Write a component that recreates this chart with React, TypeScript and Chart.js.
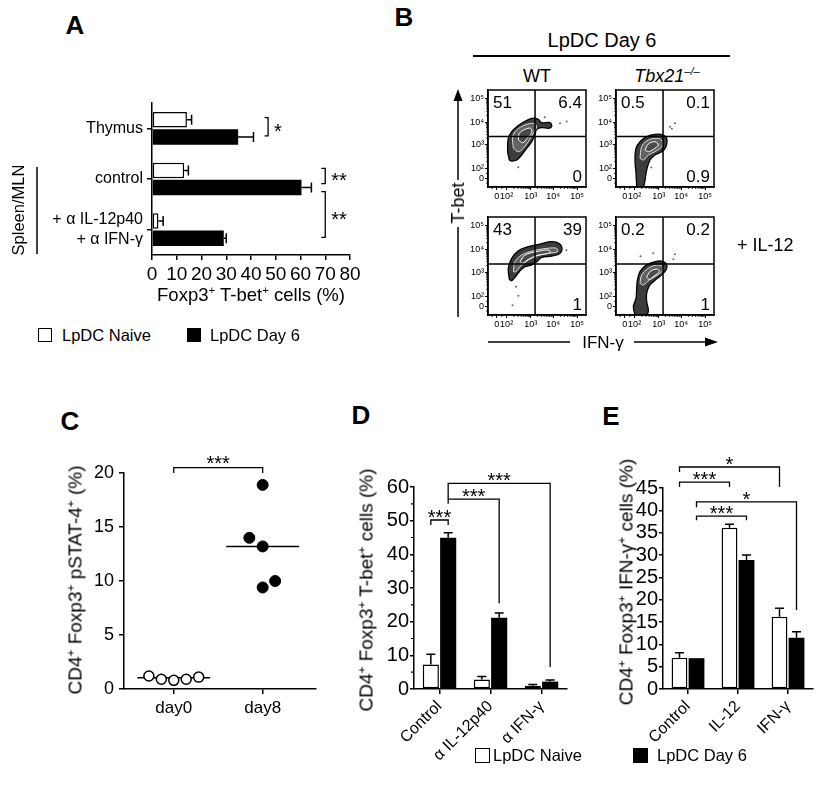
import React, { useEffect, useRef } from 'react';
import { Chart, registerables } from 'chart.js';

Chart.register(...registerables);
const FONT = '"Liberation Sans", Arial, Helvetica, sans-serif';
Chart.defaults.font.family = FONT;
Chart.defaults.color = '#000';

// ---------------- Panel A data ----------------
const categoriesA: (string | string[])[] = ['Thymus', 'control', ['+ α IL-12p40', '+ α IFN-γ']];
const naiveA = [14.1, 13.0, 2.6];
const naiveAErr = [1.9, 1.7, 1.9];
const day6A = [34.8, 60.4, 29.0];
const day6AErr = [6.2, 4.0, 1.0];

// ---------------- Panel B data ----------------
const flowTickValues = [9, 19, 43.5, 66.5, 91];
const flowTickLabels = ['0', '10²', '10³', '10⁴', '10⁵'];
const flowMinorTicks = [4, 14, 26.4, 30.7, 33.7, 36.1, 38.1, 39.7, 41.1, 42.4, 50.4, 54.5, 57.3, 59.6, 61.4, 62.9, 64.3, 65.4, 73.9, 78.2, 81.2, 83.6, 85.6, 87.2, 88.6, 89.9];
const gateX = [48, 48, 48, 48];
const gateY = [52, 52, 52, 52];
const quadUpperLeft = ['51', '0.5', '43', '0.2'];
const quadUpperRight = ['6.4', '0.1', '39', '0.2'];
const quadLowerRight = ['0', '0.9', '1', '1'];

const wtTopOuter = [[21.8, 27.8], [20.1, 36.4], [20.7, 50.2], [24.2, 57.0], [29.3, 62.2], [36.0, 66.7], [44.6, 70.8], [51.4, 69.8], [54.8, 66.3], [63.3, 66.3], [65.0, 62.2], [61.6, 60.5], [54.8, 61.2], [49.7, 59.5], [48.0, 54.6], [44.6, 46.7], [39.5, 39.9], [34.4, 33.0], [29.3, 27.8], [24.2, 26.8]];
const wtTopMid = [[25.9, 39.9], [25.2, 51.9], [29.3, 58.8], [37.8, 63.9], [46.3, 65.6], [49.7, 62.2], [46.3, 55.3], [41.2, 46.7], [36.0, 39.9], [31.0, 36.4]];
const wtTopInner = [[31.0, 48.5], [32.0, 55.3], [37.8, 59.5], [43.5, 60.5], [44.6, 56.0], [40.1, 50.2], [35.4, 45.7]];
const wtTopEvents = [[73.5, 65.7], [80.3, 67.4], [30.9, 20.3], [58, 72]];

const tbxTopOuter = [[21.1, 0.5], [20.4, 14.1], [19.4, 27.8], [20.4, 39.9], [24.5, 46.7], [31.3, 51.9], [39.8, 54.3], [48.3, 53.6], [51.7, 50.2], [51.0, 41.6], [46.6, 36.4], [39.8, 33.0], [34.7, 27.8], [31.3, 17.5], [29.6, 7.2], [27.9, 0.5]];
const tbxTopMid = [[24.5, 29.6], [26.2, 41.6], [31.3, 47.4], [39.8, 50.2], [46.6, 48.5], [46.6, 41.6], [39.8, 36.4], [33.0, 33.0], [27.9, 27.8]];
const tbxTopInner = [[29.6, 38.1], [33.0, 44.3], [39.8, 46.7], [43.2, 43.3], [38.1, 38.8], [33.0, 36.4]];
const tbxTopEvents = [[55.1, 62.2], [60.2, 65.6], [57.0, 60.0], [36, 20]];

const wtBotOuter = [[21.8, 36.4], [20.7, 47.6], [24.2, 57.8], [31.0, 65.6], [41.2, 69.7], [53.1, 72.4], [63.3, 74.8], [70.7, 73.8], [75.2, 69.7], [73.5, 62.9], [65.0, 60.2], [54.8, 58.8], [49.7, 54.4], [44.6, 51.0], [37.8, 49.3], [32.7, 45.2], [28.6, 39.8], [24.2, 35.0]];
const wtBotMid = [[25.9, 44.2], [27.6, 54.4], [34.4, 61.2], [46.3, 65.6], [59.9, 68.0], [70.1, 68.0], [70.7, 64.6], [61.6, 62.9], [49.7, 60.2], [41.2, 56.1], [32.7, 49.3], [28.6, 44.2]];
const wtBotInner = [[32.7, 54.4], [37.8, 61.2], [49.7, 64.6], [61.6, 66.3], [63.3, 63.6], [51.4, 61.2], [41.2, 56.8], [35.4, 52.7]];
const wtBotEvents = [[28.6, 28.9], [31.0, 19.7], [25.0, 10.0], [80.0, 66.0]];

const tbxBotOuter = [[19.4, 0.5], [17.7, 8.5], [20.4, 17.0], [21.1, 27.2], [21.8, 35.7], [24.5, 44.2], [29.6, 50.0], [36.4, 53.4], [44.9, 55.1], [51.0, 52.7], [51.7, 47.6], [48.3, 42.5], [42.2, 37.4], [38.1, 34.0], [34.0, 29.6], [31.3, 22.1], [31.3, 13.6], [33.0, 5.1], [31.3, 0.5]];
const tbxBotMid = [[24.5, 32.3], [26.2, 40.8], [33.0, 47.6], [41.5, 51.0], [47.6, 49.3], [46.6, 44.2], [39.8, 39.1], [34.0, 35.7], [27.9, 30.6]];
const tbxBotInner = [[31.3, 38.4], [34.7, 44.2], [41.5, 46.9], [44.2, 44.2], [38.8, 39.8], [34.0, 36.4]];
const tbxBotEvents = [[38.1, 62.9], [58.5, 56.8], [60.0, 62.0], [25, 60]];

// ---------------- Panel C data ----------------
const groupsC = ['day0', 'day8'];
const day0X = [0.72, 0.86, 1.0, 1.14, 1.28];
const day0Y = [1.2, 0.9, 0.8, 0.9, 1.1];
const day8X = [1.85, 2.0, 2.0, 2.0, 2.14];
const day8Y = [14.0, 18.9, 13.2, 9.4, 10.0];
const mediansC = [1.05, 13.2];

// ---------------- Panel D data ----------------
const categoriesD = ['Control', 'α IL-12p40', 'α IFN-γ'];
const naiveD = [7.3, 2.8, 1.0];
const naiveDErr = [3.0, 0.9, 0.3];
const day6D = [44.9, 21.2, 2.2];
const day6DErr = [1.5, 1.4, 0.5];

// ---------------- Panel E data ----------------
const categoriesE = ['Control', 'IL-12', 'IFN-γ'];
const naiveE = [7.0, 36.1, 16.2];
const naiveEErr = [1.1, 0.8, 1.9];
const day6E = [6.9, 28.9, 11.5];
const day6EErr = [0, 1.1, 1.3];

// ---------------- helpers ----------------
const axisBorder = { display: true, color: '#000', width: 1.5 };
const tickGrid = (len: number, lw = 1.5) => ({ display: true, drawOnChartArea: false, drawTicks: true, tickLength: len, color: '#000', lineWidth: lw, offset: false });

function errorBarPlugin(cap: number, horizontal: boolean) {
  return {
    id: 'errorBars',
    afterDatasetsDraw(chart: any) {
      const ctx = chart.ctx;
      const vScale = horizontal ? chart.scales.x : chart.scales.y;
      ctx.save();
      ctx.strokeStyle = '#000';
      ctx.lineWidth = 1.5;
      chart.data.datasets.forEach((ds: any, di: number) => {
        if (!ds.errors) return;
        const meta = chart.getDatasetMeta(di);
        meta.data.forEach((bar: any, i: number) => {
          const v = ds.data[i];
          const e = ds.errors[i];
          if (v == null || !e) return;
          const p0 = vScale.getPixelForValue(v);
          const p1 = vScale.getPixelForValue(v + e);
          ctx.beginPath();
          if (horizontal) {
            ctx.moveTo(p0, bar.y); ctx.lineTo(p1, bar.y);
            ctx.moveTo(p1, bar.y - cap); ctx.lineTo(p1, bar.y + cap);
          } else {
            ctx.moveTo(bar.x, p0); ctx.lineTo(bar.x, p1);
            ctx.moveTo(bar.x - cap, p1); ctx.lineTo(bar.x + cap, p1);
          }
          ctx.stroke();
        });
      });
      ctx.restore();
    },
  };
}

function bracketPlugin(items: any[], opts: { horizontal?: boolean; font?: number; labelDy?: number }) {
  return {
    id: 'brackets',
    afterDatasetsDraw(chart: any) {
      const ctx = chart.ctx;
      const vScale = opts.horizontal ? chart.scales.x : chart.scales.y;
      const iScale = opts.horizontal ? chart.scales.y : chart.scales.x;
      const pos = (ref: any, d: number) => {
        if (typeof ref === 'number') return iScale.getPixelForValue(ref) + d;
        const el = chart.getDatasetMeta(ref[0]).data[ref[1]];
        return (opts.horizontal ? el.y : el.x) + d;
      };
      const fs = opts.font ?? 20;
      ctx.save();
      ctx.strokeStyle = '#000';
      ctx.fillStyle = '#000';
      ctx.lineWidth = 1.3;
      ctx.font = `${fs}px ${FONT}`;
      for (const it of items) {
        const a = pos(it.a, it.da ?? 0);
        const b = pos(it.b, it.db ?? 0);
        const t = vScale.getPixelForValue(it.top);
        const ea = vScale.getPixelForValue(it.endA);
        const eb = vScale.getPixelForValue(it.endB);
        ctx.beginPath();
        if (opts.horizontal) {
          ctx.moveTo(ea, a); ctx.lineTo(t, a); ctx.lineTo(t, b); ctx.lineTo(eb, b);
        } else {
          ctx.moveTo(a, ea); ctx.lineTo(a, t); ctx.lineTo(b, t); ctx.lineTo(b, eb);
        }
        ctx.stroke();
        ctx.textBaseline = 'alphabetic';
        if (opts.horizontal) {
          ctx.textAlign = 'left';
          ctx.fillText(it.label, t + 6, (a + b) / 2 + fs * 0.57);
        } else {
          ctx.textAlign = 'center';
          ctx.fillText(it.label, (a + b) / 2, t + (opts.labelDy ?? 4));
        }
      }
      ctx.restore();
    },
  };
}

function minorYTicks(values: number[], len: number) {
  return {
    id: 'minorY',
    afterDraw(chart: any) {
      const ctx = chart.ctx;
      const y = chart.scales.y;
      const x0 = chart.chartArea.left;
      ctx.save();
      ctx.strokeStyle = '#000';
      ctx.lineWidth = 1.2;
      ctx.beginPath();
      for (const v of values) {
        const p = y.getPixelForValue(v);
        ctx.moveTo(x0 - len, p); ctx.lineTo(x0, p);
      }
      ctx.stroke();
      ctx.restore();
    },
  };
}

const hidePlugins = { legend: { display: false }, tooltip: { enabled: false } };
const fixSize = (w?: number, h?: number) => (s: any) => {
  if (w !== undefined) s.width = w;
  if (h !== undefined) s.height = h;
  s.paddingTop = 0; s.paddingBottom = 0; s.paddingLeft = 0; s.paddingRight = 0;
};

// ---------------- Panel A ----------------
function makeA() {
  return {
    type: 'bar',
    data: {
      labels: categoriesA,
      datasets: [
        { label: 'LpDC Naive', data: naiveA, errors: naiveAErr, backgroundColor: '#fff', borderColor: '#000', borderWidth: 1.5, borderSkipped: false, categoryPercentage: 0.68, barPercentage: 0.9 },
        { label: 'LpDC Day 6', data: day6A, errors: day6AErr, backgroundColor: '#000', borderColor: '#000', borderWidth: 0, categoryPercentage: 0.68, barPercentage: 0.9 },
      ],
    },
    options: {
      indexAxis: 'y',
      responsive: false,
      animation: false,
      layout: { padding: { left: 0, right: 50, top: 18, bottom: 0 } },
      plugins: hidePlugins,
      scales: {
        x: {
          type: 'linear', min: 0, max: 80,
          ticks: { stepSize: 10, font: { size: 19 }, padding: 3, maxRotation: 0, autoSkip: false },
          grid: tickGrid(5), border: axisBorder,
          afterFit: fixSize(undefined, 60),
        },
        y: {
          type: 'category', offset: true,
          ticks: { font: { size: 16, lineHeight: 1.3 }, padding: 4, autoSkip: false },
          grid: tickGrid(5), border: axisBorder,
          afterFit: fixSize(152, undefined),
        },
      },
    },
    plugins: [
      errorBarPlugin(5, true),
      bracketPlugin([
        { a: [0, 0], b: [1, 0], da: -2, db: -1, top: 46.9, endA: 45.5, endB: 45.5, label: '*' },
        { a: [0, 1], b: [1, 1], da: -2, db: -4, top: 70, endA: 68.4, endB: 68.4, label: '**' },
        { a: [1, 1], b: [1, 2], da: 4, db: -1, top: 70, endA: 68.4, endB: 68.4, label: '**' },
      ], { horizontal: true, font: 20 }),
    ],
  };
}

// ---------------- Panel B ----------------
function makeFlow(idx: number, contours: number[][][], events: number[][]) {
  const toPts = (arr: number[][]) => arr.map(([x, y]) => ({ x, y }));
  const closed = (arr: number[][]) => toPts(arr.concat([arr[0]]));
  const styles = [
    { backgroundColor: '#3c3c3c', borderColor: '#000', borderWidth: 1.3 },
    { backgroundColor: '#626262', borderColor: '#dcdcdc', borderWidth: 1 },
    { backgroundColor: '#4a4a4a', borderColor: '#fff', borderWidth: 1 },
  ];
  const datasets: any[] = [
    { data: [{ x: gateX[idx], y: 0 }, { x: gateX[idx], y: 100 }], borderColor: '#000', borderWidth: 1.5, pointRadius: 0, fill: false, order: 0 },
    { data: [{ x: 0, y: gateY[idx] }, { x: 100, y: gateY[idx] }], borderColor: '#000', borderWidth: 1.5, pointRadius: 0, fill: false, order: 0 },
    { type: 'scatter', data: toPts(events), pointRadius: 1, backgroundColor: '#666', borderWidth: 0, order: 1 },
    ...contours.map((c, k) => ({ data: closed(c), ...styles[k], fill: 'shape', tension: 0.35, pointRadius: 0, order: 10 - k })),
  ];
  const boxPlugin = {
    id: 'flowBox',
    afterDraw(chart: any) {
      const { left, top, right, bottom } = chart.chartArea;
      const ctx = chart.ctx;
      ctx.save();
      ctx.strokeStyle = '#000';
      ctx.lineWidth = 1.5;
      ctx.strokeRect(left, top, right - left, bottom - top);
      ctx.lineWidth = 0.8;
      ctx.beginPath();
      for (const v of flowMinorTicks) {
        const px = chart.scales.x.getPixelForValue(v);
        ctx.moveTo(px, bottom); ctx.lineTo(px, bottom + 2);
        const py = chart.scales.y.getPixelForValue(v);
        ctx.moveTo(left, py); ctx.lineTo(left - 2, py);
      }
      ctx.stroke();
      ctx.fillStyle = '#000';
      ctx.font = `17px ${FONT}`;
      ctx.textBaseline = 'middle';
      ctx.textAlign = 'left';
      ctx.fillText(quadUpperLeft[idx], left + 5, top + 13);
      ctx.textAlign = 'right';
      ctx.fillText(quadUpperRight[idx], right - 4, top + 13);
      ctx.fillText(quadLowerRight[idx], right - 4, bottom - 10);
      ctx.restore();
    },
  };
  const axis = (isX: boolean) => ({
    type: 'linear', min: 0, max: 100,
    afterBuildTicks: (s: any) => { s.ticks = flowTickValues.map((v) => ({ value: v })); },
    ticks: { autoSkip: false, maxRotation: 0, font: { size: 9 }, padding: 1, callback: (_v: any, i: number) => flowTickLabels[i] },
    grid: tickGrid(3, 1), border: axisBorder,
    afterFit: isX ? fixSize(undefined, 22) : fixSize(32, undefined),
  });
  return {
    type: 'line',
    data: { datasets },
    options: {
      responsive: false, animation: false,
      layout: { padding: { left: 0, right: 8, top: 10, bottom: 0 } },
      plugins: hidePlugins,
      scales: { x: axis(true), y: axis(false) },
    },
    plugins: [boxPlugin],
  };
}

// ---------------- Panel C ----------------
function makeC() {
  const medSpan = 0.41;
  return {
    type: 'scatter',
    data: {
      datasets: [
        { label: 'day0', data: day0X.map((x, i) => ({ x, y: day0Y[i] })), pointRadius: 5, pointBackgroundColor: '#fff', pointBorderColor: '#000', pointBorderWidth: 1.5, order: 0 },
        { label: 'day8', data: day8X.map((x, i) => ({ x, y: day8Y[i] })), pointRadius: 5.5, pointBackgroundColor: '#000', pointBorderColor: '#000', pointBorderWidth: 1, order: 0 },
        { data: [{ x: 1 - medSpan, y: mediansC[0] }, { x: 1 + medSpan, y: mediansC[0] }], showLine: true, borderColor: '#000', borderWidth: 1.5, pointRadius: 0, order: 1 },
        { data: [{ x: 2 - medSpan, y: mediansC[1] }, { x: 2 + medSpan, y: mediansC[1] }], showLine: true, borderColor: '#000', borderWidth: 1.5, pointRadius: 0, order: 1 },
      ],
    },
    options: {
      responsive: false, animation: false,
      layout: { padding: { left: 0, right: 24, top: 33, bottom: 0 } },
      plugins: hidePlugins,
      scales: {
        x: {
          type: 'linear', min: 0.44, max: 2.6,
          afterBuildTicks: (s: any) => { s.ticks = [{ value: 1 }, { value: 2 }]; },
          ticks: { font: { size: 17 }, padding: 4, maxRotation: 0, autoSkip: false, callback: (_v: any, i: number) => groupsC[i] },
          grid: tickGrid(5), border: axisBorder,
          afterFit: fixSize(undefined, 41),
        },
        y: {
          type: 'linear', min: 0, max: 20,
          ticks: { stepSize: 5, font: { size: 18 }, padding: 5, autoSkip: false },
          grid: tickGrid(5), border: axisBorder,
          afterFit: fixSize(84, undefined),
        },
      },
    },
    plugins: [bracketPlugin([{ a: 1, b: 2, top: 20.5, endA: 20.0, endB: 20.0, label: '***' }], { font: 20, labelDy: 2 })],
  };
}

// ---------------- Panels D / E ----------------
function makeVBar(labels: string[], naive: number[], naiveErr: number[], day6: number[], day6Err: number[], max: number, step: number, axisW: number, padR: number, padT: number, brackets: any[], minor: number[]) {
  const plugins: any[] = [errorBarPlugin(4.5, false), bracketPlugin(brackets, { font: 20, labelDy: 4 })];
  if (minor.length) plugins.push(minorYTicks(minor, 3));
  return {
    type: 'bar',
    data: {
      labels,
      datasets: [
        { label: 'LpDC Naive', data: naive, errors: naiveErr, backgroundColor: '#fff', borderColor: '#000', borderWidth: 1.5, borderSkipped: false, categoryPercentage: 0.68, barPercentage: 0.93 },
        { label: 'LpDC Day 6', data: day6, errors: day6Err, backgroundColor: '#000', borderColor: '#000', borderWidth: 0, categoryPercentage: 0.68, barPercentage: 0.93 },
      ],
    },
    options: {
      responsive: false, animation: false,
      layout: { padding: { left: 0, right: padR, top: padT, bottom: 0 } },
      plugins: hidePlugins,
      scales: {
        x: {
          type: 'category', offset: true,
          ticks: { font: { size: 16 }, padding: 3, minRotation: 45, maxRotation: 45, autoSkip: false },
          grid: tickGrid(5), border: axisBorder,
          afterFit: fixSize(undefined, 71),
        },
        y: {
          type: 'linear', min: 0, max,
          ticks: { stepSize: step, font: { size: 20 }, padding: 1, autoSkip: false },
          grid: tickGrid(4), border: axisBorder,
          afterFit: fixSize(axisW, undefined),
        },
      },
    },
    plugins,
  };
}

const makeD = () => makeVBar(categoriesD, naiveD, naiveDErr, day6D, day6DErr, 60, 10, 84, 13, 47, [
  { a: [0, 0], b: [1, 0], top: 50.2, endA: 48.7, endB: 48.7, label: '***' },
  { a: [1, 0], b: [1, 1], top: 56.4, endA: 55.0, endB: 25.5, label: '***' },
  { a: [1, 0], b: [1, 2], top: 61.1, endA: 56.4, endB: 6.5, label: '***' },
], [5, 15, 25, 35, 45, 55]);

const makeE = () => makeVBar(categoriesE, naiveE, naiveEErr, day6E, day6EErr, 45, 5, 83, 15, 48, [
  { a: [0, 0], b: [0, 2], top: 49.7, endA: 48.6, endB: 45.2, label: '*' },
  { a: [0, 0], b: [0, 1], top: 46.3, endA: 45.2, endB: 45.2, label: '***' },
  { a: [1, 0], b: [1, 2], top: 41.9, endA: 40.7, endB: 17.7, label: '*' },
  { a: [1, 0], b: [1, 1], top: 38.7, endA: 37.8, endB: 37.8, label: '***' },
], []);

// ---------------- components ----------------
function ChartBox({ x, y, w, h, make }: { x: number; y: number; w: number; h: number; make: () => any }) {
  const ref = useRef<HTMLCanvasElement | null>(null);
  useEffect(() => {
    if (!ref.current) return;
    const chart = new Chart(ref.current, make());
    return () => chart.destroy();
  }, []);
  return <canvas ref={ref} width={w} height={h} style={{ position: 'absolute', left: x, top: y, width: w, height: h }} />;
}

function Txt({ x, y, size, children, bold, italic, rot, anchor = 'center' }: any) {
  const tx = anchor === 'center' ? '-50%' : anchor === 'left' ? '0%' : '-100%';
  return (
    <div style={{ position: 'absolute', left: x, top: y, fontSize: size, fontWeight: bold ? 'bold' : 'normal', fontStyle: italic ? 'italic' : 'normal', whiteSpace: 'nowrap', lineHeight: 1, transform: `translate(${tx}, -50%)${rot ? ` rotate(${rot}deg)` : ''}` }}>
      {children}
    </div>
  );
}

const Sup = ({ children }: any) => <span style={{ fontSize: '0.62em', verticalAlign: 'super', lineHeight: 0 }}>{children}</span>;

const Swatch = ({ x, y, s, fill }: any) => (
  <div style={{ position: 'absolute', left: x, top: y, width: s, height: s, boxSizing: 'border-box', border: '1.5px solid #000', background: fill }} />
);

const flowBoxes = [
  { x: 488, y: 90, w: 98, h: 97, contours: [wtTopOuter, wtTopMid, wtTopInner], events: wtTopEvents },
  { x: 616, y: 90, w: 98, h: 97, contours: [tbxTopOuter, tbxTopMid, tbxTopInner], events: tbxTopEvents },
  { x: 488, y: 217, w: 98, h: 98, contours: [wtBotOuter, wtBotMid, wtBotInner], events: wtBotEvents },
  { x: 616, y: 217, w: 98, h: 98, contours: [tbxBotOuter, tbxBotMid, tbxBotInner], events: tbxBotEvents },
];

export default function App() {
  return (
    <div style={{ position: 'absolute', left: 0, top: 0, width: 828, height: 800, background: '#fff', fontFamily: FONT, color: '#000', overflow: 'hidden' }}>
      {/* Panel letters */}
      <Txt x={75} y={25} size={26} bold>A</Txt>
      <Txt x={404} y={17} size={26} bold>B</Txt>
      <Txt x={70} y={421} size={26} bold>C</Txt>
      <Txt x={361} y={415} size={26} bold>D</Txt>
      <Txt x={611} y={416} size={26} bold>E</Txt>

      {/* Panel A */}
      <ChartBox x={0} y={85} w={400} h={230} make={makeA} />
      <Txt x={251} y={295} size={18.5}>Foxp3<Sup>+</Sup> T-bet<Sup>+</Sup> cells (%)</Txt>
      <Txt x={18} y={210} size={16.5} rot={-90}>Spleen/MLN</Txt>
      <Swatch x={38} y={328} s={14} fill="#fff" />
      <Txt x={62} y={335} size={16.5} anchor="left">LpDC Naive</Txt>
      <Swatch x={187} y={328} s={14} fill="#000" />
      <Txt x={210} y={335} size={16.5} anchor="left">LpDC Day 6</Txt>

      {/* Panel B */}
      <Txt x={602} y={40} size={20}>LpDC Day 6</Txt>
      <Txt x={537} y={76} size={18}>WT</Txt>
      <Txt x={667} y={76} size={18} italic>Tbx21<Sup>–/–</Sup></Txt>
      {flowBoxes.map((b, i) => (
        <ChartBox key={i} x={b.x - 32} y={b.y - 10} w={b.w + 40} h={b.h + 32} make={() => makeFlow(i, b.contours, b.events)} />
      ))}
      <Txt x={458} y={203} size={18} rot={-90}>T-bet</Txt>
      <Txt x={603} y={342} size={17}>IFN-γ</Txt>
      <Txt x={737} y={245} size={18} anchor="left">+ IL-12</Txt>

      {/* Panel C */}
      <ChartBox x={40} y={440} w={300} h={290} make={makeC} />
      <Txt x={75} y={580} size={19} rot={-90}>CD4<Sup>+</Sup> Foxp3<Sup>+</Sup> pSTAT-4<Sup>+</Sup> (%)</Txt>

      {/* Panel D */}
      <ChartBox x={330} y={440} w={250} h={320} make={makeD} />
      <Txt x={366} y={590} size={19} rot={-90}>CD4<Sup>+</Sup> Foxp3<Sup>+</Sup> T-bet<Sup>+</Sup> cells (%)</Txt>

      {/* Panel E */}
      <ChartBox x={580} y={440} w={248} h={320} make={makeE} />
      <Txt x={626} y={582} size={19} rot={-90}>CD4<Sup>+</Sup> Foxp3<Sup>+</Sup> IFN-γ<Sup>+</Sup> cells (%)</Txt>

      {/* Bottom legend */}
      <Swatch x={475} y={748} s={15} fill="#fff" />
      <Txt x={493} y={755} size={16.5} anchor="left">LpDC Naive</Txt>
      <Swatch x={633} y={748} s={15} fill="#000" />
      <Txt x={657} y={755} size={16.5} anchor="left">LpDC Day 6</Txt>

      {/* Decorative lines */}
      <svg width={828} height={800} style={{ position: 'absolute', left: 0, top: 0, pointerEvents: 'none' }}>
        <line x1={37} y1={167} x2={37} y2={254} stroke="#000" strokeWidth={1.5} />
        <line x1={473} y1={56} x2={730} y2={56} stroke="#000" strokeWidth={2} />
        <line x1={458} y1={317} x2={458} y2={227} stroke="#000" strokeWidth={1.5} />
        <line x1={458} y1={180} x2={458} y2={100} stroke="#000" strokeWidth={1.5} />
        <polygon points="458,89 453.5,101 462.5,101" fill="#000" />
        <line x1={488} y1={342} x2={570} y2={342} stroke="#000" strokeWidth={1.5} />
        <line x1={634} y1={342} x2={706} y2={342} stroke="#000" strokeWidth={1.5} />
        <polygon points="718,342 705,337.5 705,346.5" fill="#000" />
      </svg>
    </div>
  );
}
